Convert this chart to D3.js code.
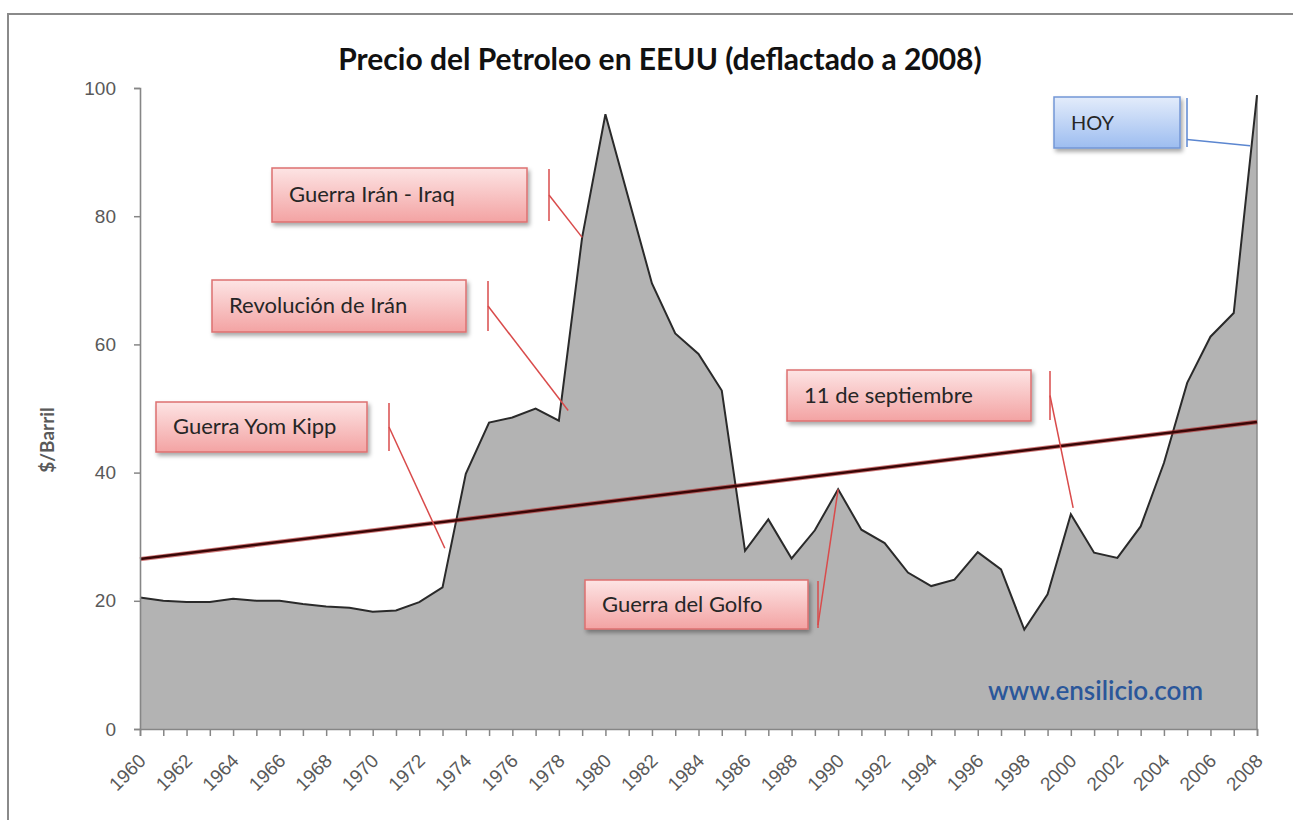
<!DOCTYPE html>
<html>
<head>
<meta charset="utf-8">
<script src="https://cdn.jsdelivr.net/npm/d3@7"></script>
<style>
  html, body { margin: 0; padding: 0; background: #fff; }
  svg { display: block; font-family: Lato, "Open Sans", sans-serif; }
</style>
</head>
<body>
<svg id="chart" width="1293" height="820"></svg>
<script>
// years and deflated oil price ($/barrel, 2008 dollars)
const years = d3.range(1960, 2009);
const prices = [
  20.5, 20.0, 19.8, 19.8, 20.3, 20.0, 20.0, 19.5, 19.1, 18.9,
  18.3, 18.5, 19.8, 22.1, 39.8, 47.8, 48.6, 50.0, 48.1, 76.7,
  95.9, 82.7, 69.5, 61.7, 58.5, 52.8, 27.8, 32.7, 26.6, 31.0,
  37.4, 31.1, 29.0, 24.4, 22.3, 23.3, 27.6, 24.9, 15.5, 21.0,
  33.5, 27.5, 26.7, 31.6, 41.5, 54.0, 61.2, 64.9, 98.9
];
const yTicks = [0, 20, 40, 60, 80, 100];
const xLabelYears = d3.range(1960, 2009, 2);

// callouts: label, year and value the pointer reaches
const noteLabels = ["Guerra Irán - Iraq", "Revolución de Irán", "Guerra Yom Kipp", "Guerra del Golfo", "11 de septiembre", "HOY"];
const noteYears = [1979, 1978.4, 1973.1, 1990, 2000.1, 2007.7];
const noteValues = [76.7, 49.7, 28.2, 37.4, 34.5, 91.0];

const svg = d3.select("#chart");
const x = d3.scaleLinear().domain([1960, 2008]).range([140, 1257]);
const y = d3.scaleLinear().domain([0, 100]).range([729, 88]);

const data = years.map((yr, i) => ({ year: yr, price: prices[i] }));

// outer frame
svg.append("rect")
  .attr("x", 8).attr("y", 14).attr("width", 1320).attr("height", 900)
  .attr("fill", "none").attr("stroke", "#8a8a8a").attr("stroke-width", 2);

// gradients for the callout boxes
const defs = svg.append("defs");
function grad(id, top, bottom) {
  const g = defs.append("linearGradient").attr("id", id)
    .attr("x1", 0).attr("y1", 0).attr("x2", 0).attr("y2", 1);
  g.append("stop").attr("offset", "0%").attr("stop-color", top);
  g.append("stop").attr("offset", "100%").attr("stop-color", bottom);
}
grad("pink", "#fde4e4", "#f3a3a3");
grad("blue", "#e3ecfb", "#9dbdf0");
const shadow = defs.append("filter").attr("id", "shadow")
  .attr("x", "-10%").attr("y", "-20%").attr("width", "130%").attr("height", "160%");
shadow.append("feDropShadow").attr("dx", 2).attr("dy", 3).attr("stdDeviation", 2)
  .attr("flood-color", "#000").attr("flood-opacity", 0.35);

// area + line
svg.append("path")
  .datum(data)
  .attr("fill", "#b3b3b3")
  .attr("d", d3.area().x(d => x(d.year)).y0(y(0)).y1(d => y(d.price)));

svg.append("line")
  .attr("x1", x(2008)).attr("x2", x(2008))
  .attr("y1", y(prices[prices.length - 1])).attr("y2", y(0))
  .attr("stroke", "#8a8a8a").attr("stroke-width", 1.5);

svg.append("path")
  .datum(data)
  .attr("fill", "none")
  .attr("stroke", "#2a2a2a")
  .attr("stroke-width", 2)
  .attr("d", d3.line().x(d => x(d.year)).y(d => y(d.price)));

// linear trend (least squares)
const mx = d3.mean(years), my = d3.mean(prices);
const slope = d3.sum(years, (v, i) => (v - mx) * (prices[i] - my)) / d3.sum(years, v => (v - mx) ** 2);
const trend = yr => my + slope * (yr - mx);
svg.append("line")
  .attr("x1", x(1960)).attr("y1", y(trend(1960)))
  .attr("x2", x(2008)).attr("y2", y(trend(2008)))
  .attr("stroke", "#b02020").attr("stroke-width", 4.5).attr("stroke-opacity", 0.6);
svg.append("line")
  .attr("x1", x(1960)).attr("y1", y(trend(1960)))
  .attr("x2", x(2008)).attr("y2", y(trend(2008)))
  .attr("stroke", "#3a0606").attr("stroke-width", 2.5);

// axes
const yAxis = svg.append("g")
  .attr("transform", `translate(${x(1960)},0)`)
  .call(d3.axisLeft(y).tickValues(yTicks).tickSize(6).tickPadding(18));
const xAxis = svg.append("g")
  .attr("transform", `translate(0,${y(0)})`)
  .call(d3.axisBottom(x).tickValues(years).tickSize(7).tickFormat(""));

[yAxis, xAxis].forEach(g => {
  g.select(".domain").attr("stroke", "#868686").attr("stroke-width", 1.6);
  g.selectAll(".tick line").attr("stroke", "#868686").attr("stroke-width", 1.5);
});
yAxis.selectAll(".tick text")
  .attr("fill", "#595959").style("font-size", "19px");

xAxis.selectAll(".xlab")
  .data(xLabelYears)
  .enter().append("text")
  .attr("class", "xlab")
  .attr("transform", d => `translate(${x(d) + 7},${33}) rotate(-45)`)
  .attr("text-anchor", "end")
  .attr("fill", "#595959")
  .style("font-size", "19px")
  .text(d => d);

// title + axis title
svg.append("text")
  .attr("x", 660).attr("y", 70)
  .attr("text-anchor", "middle")
  .attr("fill", "#111")
  .style("font-size", "30px").style("font-weight", "bold")
  .text("Precio del Petroleo en EEUU (deflactado a 2008)");

svg.append("text")
  .attr("transform", "translate(54,440) rotate(-90)")
  .attr("text-anchor", "middle")
  .attr("fill", "#595959")
  .style("font-size", "19px").style("font-weight", "bold")
  .text("$/Barril");

// watermark
svg.append("text")
  .attr("x", 1203).attr("y", 700)
  .attr("text-anchor", "end")
  .attr("fill", "#2b579a")
  .style("font-size", "26px").style("font-weight", 600)
  .text("www.ensilicio.com");

// callout boxes (box x, y, w, h and pointer bar x)
const boxes = [
  [272, 168, 255, 54, 549],
  [212, 280, 254, 52, 488],
  [156, 402, 211, 50, 389],
  [585, 580, 223, 49, 818],
  [787, 370, 244, 51, 1050],
  [1054, 97, 126, 51, 1187]
];
const notes = svg.selectAll(".note")
  .data(noteLabels.map((t, i) => ({ text: t, year: noteYears[i], value: noteValues[i], box: boxes[i], blue: t === "HOY" })))
  .enter().append("g").attr("class", "note");

notes.append("rect")
  .attr("x", d => d.box[0]).attr("y", d => d.box[1])
  .attr("width", d => d.box[2]).attr("height", d => d.box[3])
  .attr("fill", d => d.blue ? "url(#blue)" : "url(#pink)")
  .attr("stroke", d => d.blue ? "#7396d6" : "#dd7070")
  .attr("stroke-width", 1.5)
  .attr("filter", "url(#shadow)");

notes.append("text")
  .attr("x", d => d.box[0] + 17)
  .attr("y", d => d.box[1] + d.box[3] / 2 + 7)
  .attr("fill", "#262626")
  .style("font-size", d => d.blue ? "20px" : "22px")
  .text(d => d.text);

// pointer: short vertical bar, then a leg to the target
notes.append("line")
  .attr("x1", d => d.box[4]).attr("x2", d => d.box[4])
  .attr("y1", d => d.box[1] + 1).attr("y2", d => d.box[1] + d.box[3] - 1)
  .attr("stroke", d => d.blue ? "#5b86d0" : "#d94b4b").attr("stroke-width", 1.5);
notes.append("line")
  .attr("x1", d => d.box[4])
  .attr("y1", d => d.text === "Guerra del Golfo" ? d.box[1] + d.box[3] - 4 : d.box[1] + d.box[3] / 2 + (d.blue ? 17 : 0))
  .attr("x2", d => x(d.year)).attr("y2", d => y(d.value))
  .attr("stroke", d => d.blue ? "#5b86d0" : "#d94b4b").attr("stroke-width", 1.5);
</script>
</body>
</html>
